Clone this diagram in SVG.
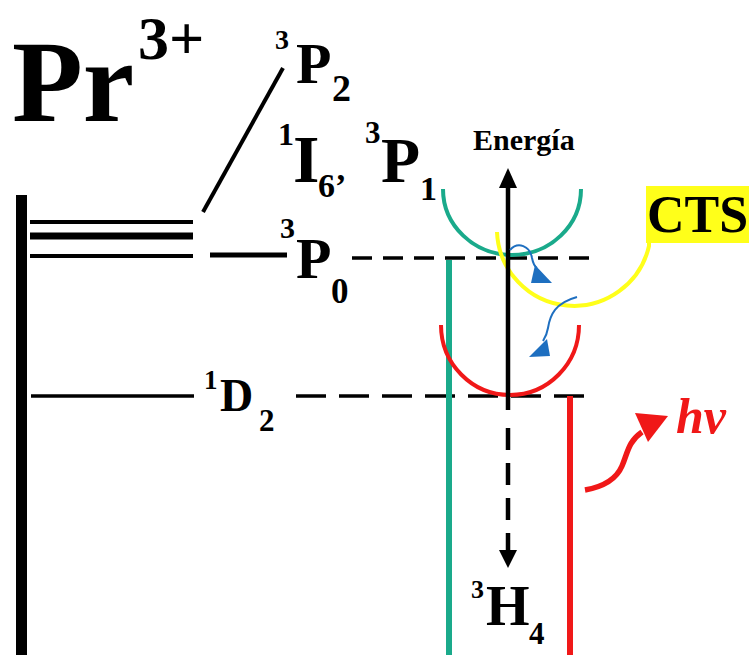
<svg xmlns="http://www.w3.org/2000/svg" width="749" height="655" viewBox="0 0 749 655">
<style>
.t{font-family:"Liberation Serif","Times New Roman",serif;font-weight:bold;fill:#000}
.k{stroke:#000;fill:none}
.dash{stroke:#000;stroke-width:3.5;fill:none}
</style>
<rect width="749" height="655" fill="#fff"/>
<g id="levels">
<rect x="16" y="195" width="11" height="460" fill="#000"/>
<line class="k" x1="30" y1="222" x2="193" y2="222" stroke-width="4"/>
<line class="k" x1="30" y1="236" x2="193" y2="236" stroke-width="7"/>
<line class="k" x1="30" y1="256" x2="193" y2="256" stroke-width="4"/>
<line class="k" x1="203" y1="212" x2="283" y2="68" stroke-width="4"/>
<line class="k" x1="210" y1="255" x2="287" y2="255" stroke-width="5"/>
<line class="k" x1="31" y1="396" x2="194" y2="396" stroke-width="3.5"/>
</g>
<g id="connectors">
<line class="dash" x1="352" y1="258" x2="596" y2="258" stroke-dasharray="20 11"/>
<line class="dash" x1="296" y1="396" x2="584" y2="396" stroke-dasharray="30 13"/>
<line x1="449" y1="260" x2="449" y2="655" stroke="#1aaa8b" stroke-width="6"/>
<line x1="570" y1="396" x2="570" y2="655" stroke="#f01818" stroke-width="6"/>
<path d="M443,189 A69,66 0 0 0 581,189" fill="none" stroke="#1aaa8b" stroke-width="4"/>
<path d="M497,232 A77,77 0 0 0 649,246 L649,240" fill="none" stroke="#ffff1a" stroke-width="4"/>
<path d="M441,325 A69,70 0 0 0 579,325" fill="none" stroke="#f01818" stroke-width="4"/>
<line class="k" x1="508" y1="410" x2="508" y2="185" stroke-width="4.5"/>
<polygon points="499,188 517,188 508,168" fill="#000"/>
<line class="k" x1="508" y1="428" x2="508" y2="552" stroke-width="4.5" stroke-dasharray="22 13"/>
<polygon points="499,550 517,550 508,568" fill="#000"/>
<path d="M510,250 C518,241 530,246 532,258 C533,263 534,266 537,268" fill="none" stroke="#1e6fc0" stroke-width="2"/>
<polygon points="535,265 531,283 552,283" fill="#1e6fc0"/>
<path d="M577,297 C555,303 550,315 548,328 C547,334 545,338 543,341" fill="none" stroke="#1e6fc0" stroke-width="2"/>
<polygon points="547,339 529,357 550,356" fill="#1e6fc0"/>
<path d="M585,490 C602,487 616,480 622,466 C628,452 628,442 642,432" fill="none" stroke="#f01818" stroke-width="5.5"/>
<polygon points="668,416 635,413 648,442" fill="#f01818"/>
</g>
<g id="title">
<text class="t" x="12" y="121" font-size="116">Pr</text>
<text class="t" x="138" y="59" font-size="62">3+</text>
</g>
<g id="label-3P2">
<text class="t" x="275" y="49" font-size="28">3</text>
<text class="t" x="296" y="83" font-size="58">P</text>
<text class="t" x="332" y="101" font-size="38">2</text>
</g>
<g id="label-1I6">
<text class="t" x="278" y="145" font-size="32">1</text>
<text class="t" x="293" y="182" font-size="68">I</text>
<text class="t" x="318" y="197" font-size="34">6’</text>
</g>
<g id="label-3P1">
<text class="t" x="365" y="143" font-size="31">3</text>
<text class="t" x="381" y="182" font-size="64">P</text>
<text class="t" x="420" y="200" font-size="34">1</text>
</g>
<g id="label-3P0">
<text class="t" x="280" y="238" font-size="30">3</text>
<text class="t" x="296" y="278" font-size="58">P</text>
<text class="t" x="331" y="303" font-size="35">0</text>
</g>
<g id="label-1D2">
<text class="t" x="204" y="389" font-size="27">1</text>
<text class="t" x="220" y="411" font-size="46">D</text>
<text class="t" x="259" y="431" font-size="31">2</text>
</g>
<g id="label-3H4">
<text class="t" x="471" y="598" font-size="26">3</text>
<text class="t" x="486" y="625" font-size="56">H</text>
<text class="t" x="529" y="644" font-size="31">4</text>
</g>
<g id="label-energia">
<text class="t" x="473" y="150" font-size="30">Energía</text>
</g>
<g id="label-CTS">
<rect x="646" y="186" width="103" height="57" fill="#ffff1a"/>
<text class="t" x="647" y="232" font-size="52">CTS</text>
</g>
<g id="label-hv">
<text class="t" x="676" y="433" font-size="50" font-style="italic" style="fill:#f01818">hv</text>
</g>
</svg>
